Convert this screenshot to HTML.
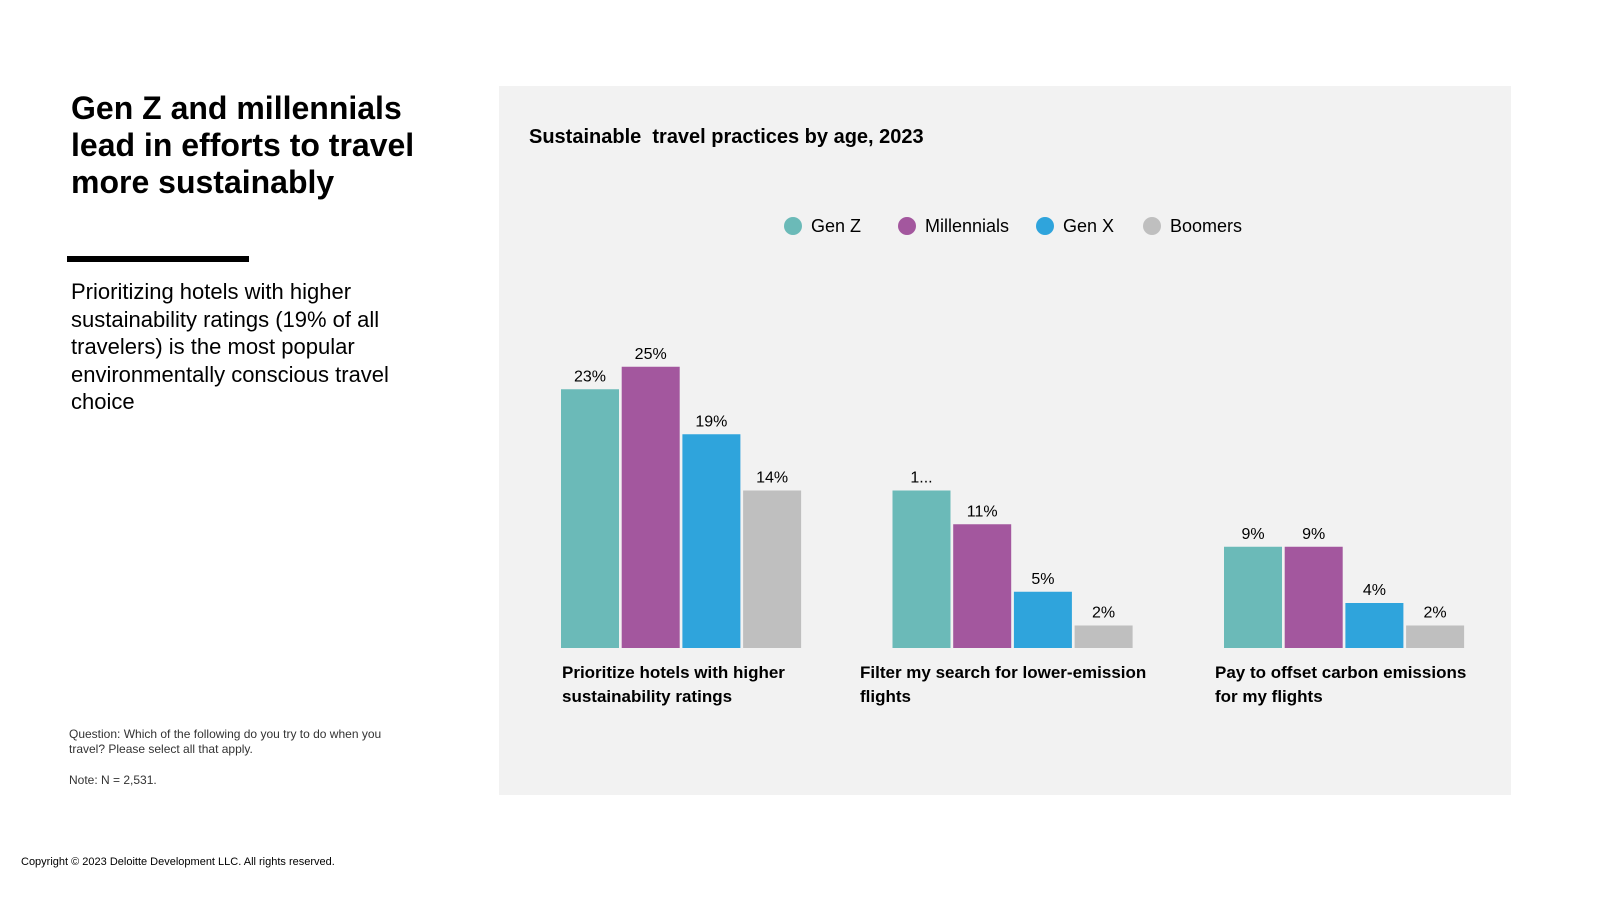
<!DOCTYPE html>
<html><head><meta charset="utf-8"><style>
body{margin:0;width:1600px;height:900px;background:#fff;font-family:"Liberation Sans",sans-serif;position:relative;overflow:hidden}
.abs{position:absolute}
</style></head><body>
<div class="abs" style="left:71px;top:90px;width:400px;font-size:32px;font-weight:bold;line-height:37px;color:#000">Gen Z and millennials lead in efforts to travel more sustainably</div>
<div class="abs" style="left:67px;top:256px;width:182px;height:6px;background:#000"></div>
<div class="abs" style="left:71px;top:278px;width:370px;font-size:22px;line-height:27.5px;color:#000">Prioritizing hotels with higher sustainability ratings (19% of all travelers) is the most popular environmentally conscious travel choice</div>
<div class="abs" style="left:69px;top:727px;width:345px;font-size:12px;line-height:15px;color:#333">Question: Which of the following do you try to do when you travel? Please select all that apply.</div>
<div class="abs" style="left:69px;top:773px;font-size:12px;color:#333">Note: N = 2,531.</div>
<div class="abs" style="left:21px;top:856px;font-size:11px;color:#000">Copyright © 2023 Deloitte Development LLC. All rights reserved.</div>
<div class="abs" style="left:499px;top:86px;width:1012px;height:709px;background:#f2f2f2"></div>
<div class="abs" style="left:529px;top:126px;font-size:20px;font-weight:bold;color:#000">Sustainable&nbsp; travel practices by age, 2023</div>
<svg class="abs" id="chart" style="left:0;top:0" width="1600" height="900"></svg>
<script>
const categories=["Prioritize hotels with higher|sustainability ratings","Filter my search for lower-emission|flights","Pay to offset carbon emissions|for my flights"];
const seriesNames=["Gen Z","Millennials","Gen X","Boomers"];
const genZ=[23,14,9];
const millennials=[25,11,9];
const genX=[19,5,4];
const boomers=[14,2,2];
const labelsGroup2GenZ="1...";
const colors=["#6bbab8","#a3579e","#2fa4dc","#bfbfbf"];
const series=[genZ,millennials,genX,boomers];
const svg=document.getElementById('chart');
const NS="http://www.w3.org/2000/svg";
const base=648, ppu=11.25;
const y=v=>base-v*ppu;
const gx=i=>561+i*331.5;
const bx=(i,s)=>gx(i)+s*60.7;
function mk(t,a){const e=document.createElementNS(NS,t);for(const k in a)e.setAttribute(k,a[k]);svg.appendChild(e);return e;}
series.forEach((arr,s)=>{arr.forEach((v,i)=>{
 const r=mk('rect',{x:bx(i,s),y:y(v),width:58,height:v*ppu,fill:colors[s]});
 
 
 const t=mk('text',{x:bx(i,s)+29,y:y(v)-8,'text-anchor':'middle','font-size':16,'font-family':'Liberation Sans, sans-serif',fill:'#000'});
 t.textContent=(i===1&&s===0)?labelsGroup2GenZ:v+'%';
 
 
});});
const catX=[562,860,1215];
categories.forEach((c,i)=>{c.split('|').forEach((ln,j)=>{
 const t=mk('text',{x:catX[i],y:678+j*24,'font-size':17,'font-weight':'bold','font-family':'Liberation Sans, sans-serif',fill:'#000'});
 t.textContent=ln;
 
 
});});
const legX=[793,907,1045,1152];
seriesNames.forEach((n,s)=>{
 const c=mk('circle',{cx:legX[s],cy:226,r:9,fill:colors[s]});
 
 
 const t=mk('text',{x:legX[s]+18,y:232,'font-size':18,'font-family':'Liberation Sans, sans-serif',fill:'#000'});
 t.textContent=n;
 
 
});
</script>
</body></html>
